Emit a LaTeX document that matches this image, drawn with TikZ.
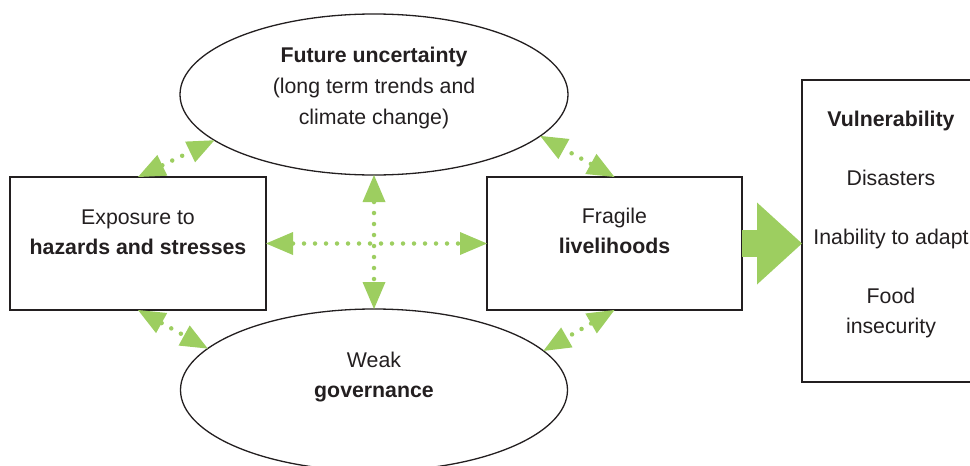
\documentclass[tikz,border=0pt]{standalone}
\usepackage{fontspec}
\setmainfont{Liberation Sans}
\usetikzlibrary{arrows.meta,shapes.geometric}
\definecolor{leaf}{RGB}{157,206,96}
\definecolor{ink}{RGB}{35,31,32}
\begin{document}
\begin{tikzpicture}[x=1pt,y=-1pt,
  every node/.style={inner sep=0pt,outer sep=0pt},
  shapebox/.style={draw=ink,line width=1.3pt,rectangle},
  oval/.style={draw=ink,line width=1.3pt,ellipse},
  lbl/.style={text=ink,align=center,font=\fontsize{21.3}{30}\selectfont},
  dotlink/.style={draw=leaf,line width=4.5pt,line cap=round,dash pattern=on 0pt off 11pt,
    {Triangle[length=27pt,width=23pt,line width=0pt,fill=leaf]}-{Triangle[length=27pt,width=23pt,line width=0pt,fill=leaf]}},
  bigarrow/.style={draw=leaf,line width=27pt,-{Triangle[length=45pt,width=82pt,line width=0pt,fill=leaf]}}]
\useasboundingbox (0,0) rectangle (970,466);
% shapes
\node[oval,minimum width=388pt,minimum height=161pt] (top) at (374,94.5) {};
\node[oval,minimum width=387pt,minimum height=162pt] (bot) at (374,390) {};
\node[shapebox,minimum width=256pt,minimum height=133pt] (left) at (138,243.5) {};
\node[shapebox,minimum width=255pt,minimum height=133pt] (mid) at (614.5,243.5) {};
\node[minimum width=178pt,minimum height=302pt] (vuln) at (891,231) {};
\draw[ink,line width=1.3pt] (vuln.north east) -- (vuln.north west) -- (vuln.south west) -- (vuln.south east);
% texts
\node[lbl,font=\fontsize{21.3}{31}\selectfont] (toptext) at (374,88) {\textbf{Future uncertainty}\\(long term trends and\\climate change)};
\node[lbl] (bottext) at (374,377.5) {Weak\\\textbf{governance}};
\node[lbl] (lefttext) at (138,232.5) {Exposure to\\\textbf{hazards and stresses}};
\node[lbl] (midtext) at (614.5,231) {Fragile\\\textbf{livelihoods}};
\node[lbl,font=\fontsize{21.3}{29.5}\selectfont] (vulntext) at (891,224.5) {\textbf{Vulnerability}\\[29.5pt]Disasters\\[29.5pt]Inability to adapt\\[29.5pt]Food\\insecurity};
% connectors
\draw[dotlink] (left.east) -- (mid.west);
\draw[dotlink] (top.south) -- (bot.north);
\draw[dotlink] (left.north) -- (top.196);
\draw[dotlink] (mid.north) -- (top.-14);
\draw[dotlink] (left.south) -- (bot.166);
\draw[dotlink] (mid.south) -- (bot.13);
\draw[bigarrow] (mid.east) -- (mid.east -| vuln.west);
\end{tikzpicture}
\end{document}
